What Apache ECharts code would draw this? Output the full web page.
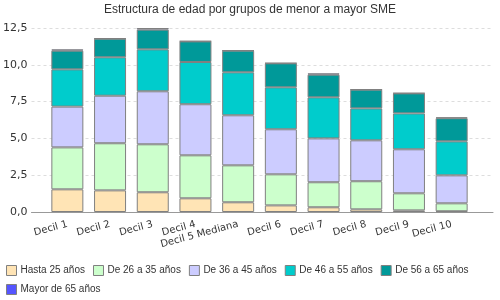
<!DOCTYPE html>
<html>
<head>
  <meta charset="UTF-8">
  <title>Estructura de edad</title>
  <script src="https://cdn.jsdelivr.net/npm/echarts@6/dist/echarts.min.js"></script>
</head>
<body style="margin:0">
  <div id="main" style="width: 500px;height:300px;"></div>
  <script type="text/javascript">
    // datos
    var categorias = ['Decil 1', 'Decil 2', 'Decil 3', 'Decil 4', 'Decil 5 Mediana',
      'Decil 6', 'Decil 7', 'Decil 8', 'Decil 9', 'Decil 10'];
    var hasta25 = [1.54, 1.47, 1.34, 0.93, 0.66, 0.45, 0.32, 0.18, 0.11, 0.05];
    var de26a35 = [2.85, 3.20, 3.26, 2.92, 2.51, 2.11, 1.70, 1.91, 1.16, 0.54];
    var de36a45 = [2.77, 3.23, 3.60, 3.47, 3.40, 3.06, 2.98, 2.78, 2.99, 1.90];
    var de46a55 = [2.53, 2.61, 2.85, 2.87, 2.92, 2.85, 2.79, 2.17, 2.44, 2.31];
    var de56a65 = [1.27, 1.26, 1.34, 1.40, 1.47, 1.63, 1.54, 1.27, 1.36, 1.57];
    var mayor65 = [0.09, 0.03, 0.11, 0.02, 0.02, 0.02, 0.09, 0.02, 0.02, 0.06];
    var series = [
      ['Hasta 25 años', hasta25, '#ffe4b5'],
      ['De 26 a 35 años', de26a35, '#ccffcc'],
      ['De 36 a 45 años', de36a45, '#ccccff'],
      ['De 46 a 55 años', de46a55, '#00cccc'],
      ['De 56 a 65 años', de56a65, '#009999'],
      ['Mayor de 65 años', mayor65, '#5555ff']
    ];

    var myChart = echarts.init(document.getElementById('main'));

    var fmt = function (v) { return v.toFixed(1).replace('.', ','); };

    var option = {
      animation: false,
      textStyle: { fontFamily: 'DejaVu Sans' },
      title: {
        text: 'Estructura de edad por grupos de menor a mayor SME',
        left: 'center',
        top: -1,
        textStyle: { fontSize: 12, fontWeight: 'normal', color: '#333', fontFamily: 'Liberation Sans' }
      },
      legend: {
        left: 6,
        top: 265,
        padding: 0,
        width: 490,
        itemWidth: 10,
        itemHeight: 10,
        itemGap: 8,
        icon: 'rect',
        itemStyle: { borderColor: '#808080', borderWidth: 1 },
        textStyle: { fontSize: 10, color: '#333', fontFamily: 'Liberation Sans', padding: [0, 0, 0, -1] },
        data: series.map(function (s) { return s[0]; })
      },
      grid: [
        { left: 46, right: 27, top: 28, bottom: 88 },  // barras
        { left: 26, right: 7, top: 28, bottom: 88 }    // ejes
      ],
      xAxis: [{
        type: 'category',
        gridIndex: 0,
        data: categorias,
        axisLine: { show: false },
        axisTick: { show: false },
        axisLabel: { rotate: 15, fontSize: 10, color: '#333', margin: 12, interval: 0 }
      }, {
        type: 'value',
        gridIndex: 1,
        axisLine: { show: true, lineStyle: { color: '#999' } },
        axisTick: { show: false },
        axisLabel: { show: false },
        splitLine: { show: false }
      }],
      yAxis: [{
        type: 'value',
        gridIndex: 0,
        min: 0, max: 12.5, interval: 2.5,
        show: false
      }, {
        type: 'value',
        gridIndex: 1,
        min: 0, max: 12.5, interval: 2.5,
        axisLine: { show: false },
        axisTick: { show: false },
        axisLabel: { fontSize: 11, color: '#333', margin: 4, formatter: fmt },
        splitLine: { lineStyle: { color: '#ddd', type: [3, 3] } }
      }],
      series: series.map(function (s) {
        return {
          name: s[0],
          type: 'bar',
          stack: 'total',
          barWidth: 32,
          data: s[1],
          itemStyle: { color: s[2], borderColor: '#808080', borderWidth: 1 }
        };
      })
    };

    myChart.setOption(option);
  </script>
</body>
</html>
